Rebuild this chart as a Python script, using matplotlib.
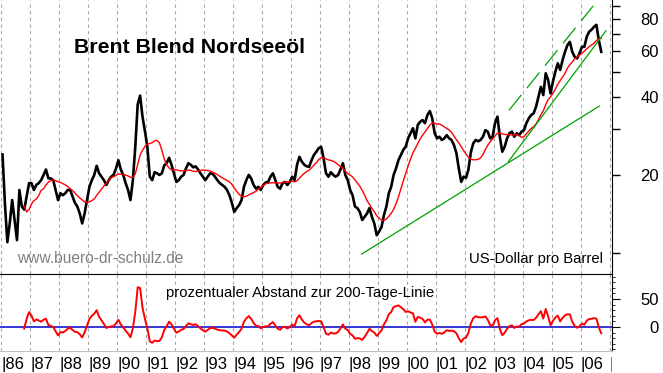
import numpy as np
import pandas as pd
import matplotlib
matplotlib.use('Agg')
import matplotlib.pyplot as plt
from matplotlib.ticker import FixedLocator, FuncFormatter, NullLocator

plt.rcParams['font.family'] = ['Liberation Sans', 'DejaVu Sans']

# Brent Blend, USD per barrel, monthly values (Jan 1986 - Sep 2006)
brent = [
    24.0, 15.5, 11.0, 13.0, 16.0, 13.4, 11.2, 17.5, 15.1, 14.7, 16.5, 18.6,   # 1986
    18.6, 17.5, 18.3, 18.6, 19.1, 20.0, 21.0, 19.4, 19.4, 19.1, 17.5, 16.0,   # 1987
    17.0, 16.7, 17.0, 17.5, 17.5, 16.5, 15.6, 15.1, 14.2, 13.0, 14.2, 16.0,   # 1988
    18.0, 19.1, 20.0, 21.7, 20.3, 19.7, 19.1, 18.3, 19.1, 19.7, 20.0, 21.2,   # 1989
    22.8, 21.0, 20.0, 18.6, 17.5, 16.0, 19.1, 25.7, 37.5, 40.5, 33.5, 29.5,   # 1990
    25.7, 19.7, 19.1, 20.5, 20.3, 20.0, 20.3, 21.8, 22.2, 23.3, 21.9, 20.3,   # 1991
    18.8, 19.1, 19.7, 20.0, 21.2, 22.2, 21.9, 21.4, 21.6, 21.0, 20.3, 19.7,   # 1992
    19.1, 19.7, 20.3, 20.2, 19.7, 19.1, 18.6, 18.3, 18.0, 17.5, 16.7, 15.6,   # 1993
    14.4, 14.9, 15.3, 16.0, 18.0, 19.1, 20.0, 19.4, 18.3, 17.7, 18.0, 17.5,   # 1994
    18.3, 18.7, 18.8, 19.7, 20.3, 19.1, 18.0, 17.7, 18.6, 18.8, 18.3, 18.8,   # 1995
    19.7, 19.1, 21.9, 23.5, 22.5, 21.9, 21.6, 21.5, 22.8, 23.9, 24.6, 25.4,   # 1996
    25.7, 23.2, 20.3, 19.7, 20.5, 20.0, 19.7, 20.0, 21.0, 22.2, 20.0, 19.1,   # 1997
    17.5, 16.7, 15.1, 14.9, 14.4, 13.4, 13.8, 14.2, 14.9, 13.8, 13.0, 11.7,   # 1998
    12.1, 12.6, 14.0, 15.1, 17.0, 18.0, 20.0, 21.2, 22.8, 23.9, 25.0, 25.7,   # 1999
    27.7, 29.0, 30.3, 27.7, 31.2, 32.1, 32.6, 31.7, 34.1, 35.3, 33.1, 29.0,   # 2000
    27.7, 28.1, 27.3, 27.7, 28.5, 27.7, 27.3, 26.1, 24.3, 21.2, 18.8, 19.7,   # 2001
    19.5, 21.0, 24.5, 26.5, 27.3, 27.0, 27.3, 28.1, 29.8, 29.4, 27.7, 28.1,   # 2002
    31.7, 33.6, 28.1, 24.6, 25.7, 27.7, 29.0, 29.4, 28.1, 29.0, 28.5, 29.4,   # 2003
    29.8, 31.7, 33.1, 34.1, 34.6, 36.7, 40.1, 43.8, 40.7, 49.4, 46.6, 41.3,   # 2004
    45.9, 50.1, 54.0, 50.9, 55.6, 59.8, 63.5, 65.3, 59.8, 57.2, 56.4, 59.0,   # 2005
    62.5, 62.5, 68.4, 71.5, 72.8, 74.7, 76.0, 66.4, 59.8,                     # 2006
]

# trend lines drawn on the chart (decimal year, price)
support_t = [1998.44, 2006.64]
support_p = [9.9, 36.9]
steep_t = [2003.50, 2006.87]
steep_p = [22.5, 72.1]
channel_t = [2003.52, 2006.43]
channel_p = [35.5, 89.9]

years = list(range(1986, 2008))
year_labels = ['|%02d' % (y % 100) for y in years]
price_ticks = [10, 20, 30, 40, 50, 60, 70, 80, 90]
price_labels = [20, 40, 60, 80]

s = pd.Series(brent)
t = 1986 + (np.arange(len(s)) + 0.5) / 12.0
ma = s.rolling(10).mean()          # ~200 trading days
dist = (s / ma - 1) * 100

W, H = 663, 373
fig = plt.figure(figsize=(W / 100, H / 100), dpi=100)
xl = (1985.955, 2007.08)
grid_kw = dict(color='#a8a8a8', linestyle=(0, (3, 3)), linewidth=0.8)

# main panel
ax = fig.add_axes([0, 99 / H, 612 / W, 274 / H])
ax.plot(t, s, color='black', lw=1.9)
ax.plot(t, ma, color='red', lw=1.0)
ax.plot(support_t, support_p, color='#00a000', lw=0.9)
ax.plot(steep_t, steep_p, color='#00a000', lw=0.9)
ax.plot(channel_t, channel_p, color='#00a000', lw=0.9, dashes=(16, 7))
ax.set_yscale('log')
ax.set_xlim(*xl)
ax.set_ylim(8.29, 94.8)
ax.set_xticks(years)
ax.tick_params(axis='x', length=0, labelbottom=False)
ax.grid(axis='x', **grid_kw)
ax.yaxis.tick_right()
ax.yaxis.set_major_locator(FixedLocator(price_ticks))
ax.yaxis.set_minor_locator(NullLocator())
ax.yaxis.set_major_formatter(FuncFormatter(lambda v, p: '%d' % v if int(round(v)) in price_labels else ''))
ax.tick_params(axis='y', length=5.8, width=1, pad=28, labelsize=12)
plt.setp(ax.get_yticklabels(), ha='right')
for side in ['top', 'left', 'bottom']:
    ax.spines[side].set_visible(False)

# lower panel: distance to 200-day line
ax2 = fig.add_axes([0, 22 / H, 612 / W, 77 / H])
ax2.axhline(0, color='#0000cc', lw=1.1)
ax2.plot(t, dist, color='red', lw=1.4)
ax2.set_xlim(*xl)
ax2.set_ylim(-42.9, 94.6)
ax2.set_xticks(years)
ax2.tick_params(axis='x', length=0, labelbottom=False)
ax2.grid(axis='x', **grid_kw)
ax2.yaxis.tick_right()
ax2.set_yticks([0, 50])
ax2.set_yticks(list(range(-40, 100, 10)), minor=True)
ax2.tick_params(axis='y', which='major', length=5.8, pad=28, labelsize=12)
ax2.tick_params(axis='y', which='minor', length=2.5)
plt.setp(ax2.get_yticklabels(), ha='right')
ax2.spines['left'].set_visible(False)
ax2.spines['bottom'].set_color('#c0c0c0')

# year labels, clipped at the right edge like the original
ax3 = fig.add_axes([0, 0, 612 / W, 22 / H])
ax3.set_xlim(*xl)
ax3.set_ylim(0, 1)
ax3.axis('off')
for y, lab in zip(years, year_labels):
    ax3.text(y, 0.17, lab, fontsize=12, ha='left', va='baseline', clip_on=True)

fig.text(189.5 / W, 1 - 53.3 / H, 'Brent Blend Nordseeöl', fontsize=15.3,
         fontweight='bold', ha='center', va='baseline')
fig.text(17 / W, 1 - 263 / H, 'www.buero-dr-schulz.de', fontsize=11.2,
         color='#808080', ha='left', va='baseline')
fig.text(603 / W, 1 - 263 / H, 'US-Dollar pro Barrel', fontsize=10.7,
         ha='right', va='baseline')
fig.text(165.7 / W, 1 - 297 / H, 'prozentualer Abstand zur 200-Tage-Linie',
         fontsize=10.7, ha='left', va='baseline')

fig.savefig('out.png', dpi=100)
